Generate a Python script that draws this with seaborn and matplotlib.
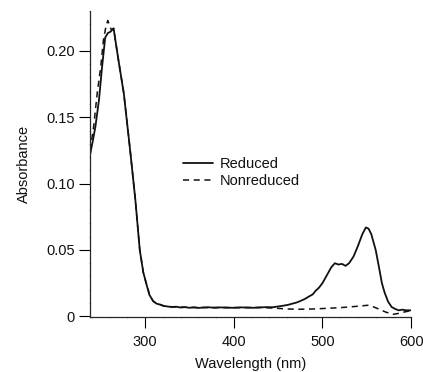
import numpy as np
import pandas as pd
import matplotlib
matplotlib.use("Agg")
import matplotlib.pyplot as plt
from matplotlib.ticker import FuncFormatter, MultipleLocator
import seaborn as sns

# Reduced spectrum (wavelength nm, absorbance)
reduced_wl = [238, 241, 244, 248, 251.5, 255, 258, 261, 264.5, 267, 270, 276, 283,
              289, 294, 298, 302, 305, 309, 313, 317, 321, 325, 330, 335, 340, 345,
              350, 355, 360, 366, 372, 378, 385, 392, 400, 408, 415, 422, 430, 437,
              444, 450, 456, 461, 466, 471, 475, 480, 485, 489, 492, 496, 500, 505,
              510, 514, 518, 522, 526, 530, 535, 540, 545, 549, 552, 555, 560, 564,
              567, 570, 574, 578, 582, 586, 590, 594, 598, 600]
reduced_abs = [0.122, 0.132, 0.143, 0.163, 0.188, 0.210, 0.2135, 0.2145, 0.217, 0.206,
               0.193, 0.168, 0.126, 0.088, 0.050, 0.033, 0.023, 0.016, 0.0115, 0.0095,
               0.0088, 0.0078, 0.0074, 0.0070, 0.0072, 0.0066, 0.0069, 0.0064, 0.0067,
               0.0063, 0.0066, 0.0068, 0.0064, 0.0067, 0.0065, 0.0064, 0.0067, 0.0066,
               0.0064, 0.0067, 0.0069, 0.0068, 0.0074, 0.0080, 0.0086, 0.0095, 0.0104,
               0.0115, 0.0130, 0.0150, 0.0165, 0.0190, 0.0215, 0.025, 0.031, 0.037,
               0.040, 0.039, 0.0395, 0.038, 0.040, 0.045, 0.053, 0.062, 0.067, 0.066,
               0.062, 0.050, 0.036, 0.025, 0.018, 0.011, 0.007, 0.0055, 0.0045, 0.0050,
               0.0045, 0.0045, 0.0045]

# Nonreduced spectrum
nonreduced_wl = [238, 242, 246, 250, 253, 256, 258, 260, 262, 264.5, 267, 270, 276, 283,
                 289, 294, 298, 302, 305, 309, 313, 317, 321, 325, 335, 350, 370, 390,
                 410, 430, 445, 460, 475, 490, 505, 520, 535, 545, 551, 558, 565, 572,
                 580, 586, 592, 598, 600]
nonreduced_abs = [0.125, 0.143, 0.168, 0.188, 0.208, 0.219, 0.223, 0.219, 0.216, 0.217,
                  0.206, 0.193, 0.168, 0.126, 0.088, 0.050, 0.033, 0.023, 0.016, 0.0115,
                  0.0095, 0.0088, 0.0078, 0.0074, 0.0070, 0.0067, 0.0066, 0.0066, 0.0065,
                  0.0066, 0.0062, 0.0055, 0.0053, 0.0055, 0.0060, 0.0065, 0.0073, 0.0079,
                  0.0083, 0.0070, 0.0050, 0.0030, 0.0015, 0.0022, 0.0032, 0.0040, 0.0040]

sns.set_style("ticks")
plt.rcParams['font.family'] = ['Liberation Sans', 'DejaVu Sans']

fig = plt.figure(figsize=(4.23, 3.72), dpi=100)
ax = fig.add_axes([0.213, 0.148, 0.759, 0.822])

sns.lineplot(x=reduced_wl, y=reduced_abs, ax=ax, color="#111111", lw=1.3,
             label="Reduced", sort=False)
sns.lineplot(x=nonreduced_wl, y=nonreduced_abs, ax=ax, color="#111111", lw=1.1,
             linestyle=(0, (4, 3)), label="Nonreduced", sort=False)

ax.set_xlim(238, 600)
ax.set_ylim(-0.0005, 0.230)
ax.xaxis.set_major_locator(MultipleLocator(100))
ax.yaxis.set_major_locator(MultipleLocator(0.05))
ax.xaxis.set_minor_locator(MultipleLocator(20))
ax.yaxis.set_minor_locator(MultipleLocator(0.01))
ax.yaxis.set_major_formatter(FuncFormatter(lambda v, p: "0" if abs(v) < 1e-9 else f"{v:.2f}"))
ax.tick_params(axis="both", which="major", labelsize=10.5, width=0.8, length=8,
               color="black", labelcolor="#111111")
ax.tick_params(axis="x", which="major", pad=5)
ax.tick_params(axis="y", which="major", pad=3)
ax.tick_params(axis="both", which="minor", length=1.0, width=0.4, color="#666666")
sns.despine(ax=ax)
for s in ["left", "bottom"]:
    ax.spines[s].set_linewidth(0.9)

ax.set_xlabel("Wavelength (nm)", fontsize=10.5, labelpad=6, color="#111111")
ax.set_ylabel("Absorbance", fontsize=10.5, labelpad=11, color="#111111")

leg = ax.legend(loc="upper left", bbox_to_anchor=(0.25, 0.567), frameon=False,
                fontsize=10.5, handlelength=2.0, handletextpad=0.5, labelspacing=0.25)
for t in leg.get_texts():
    t.set_color("#111111")

fig.savefig("out.png", dpi=100)
